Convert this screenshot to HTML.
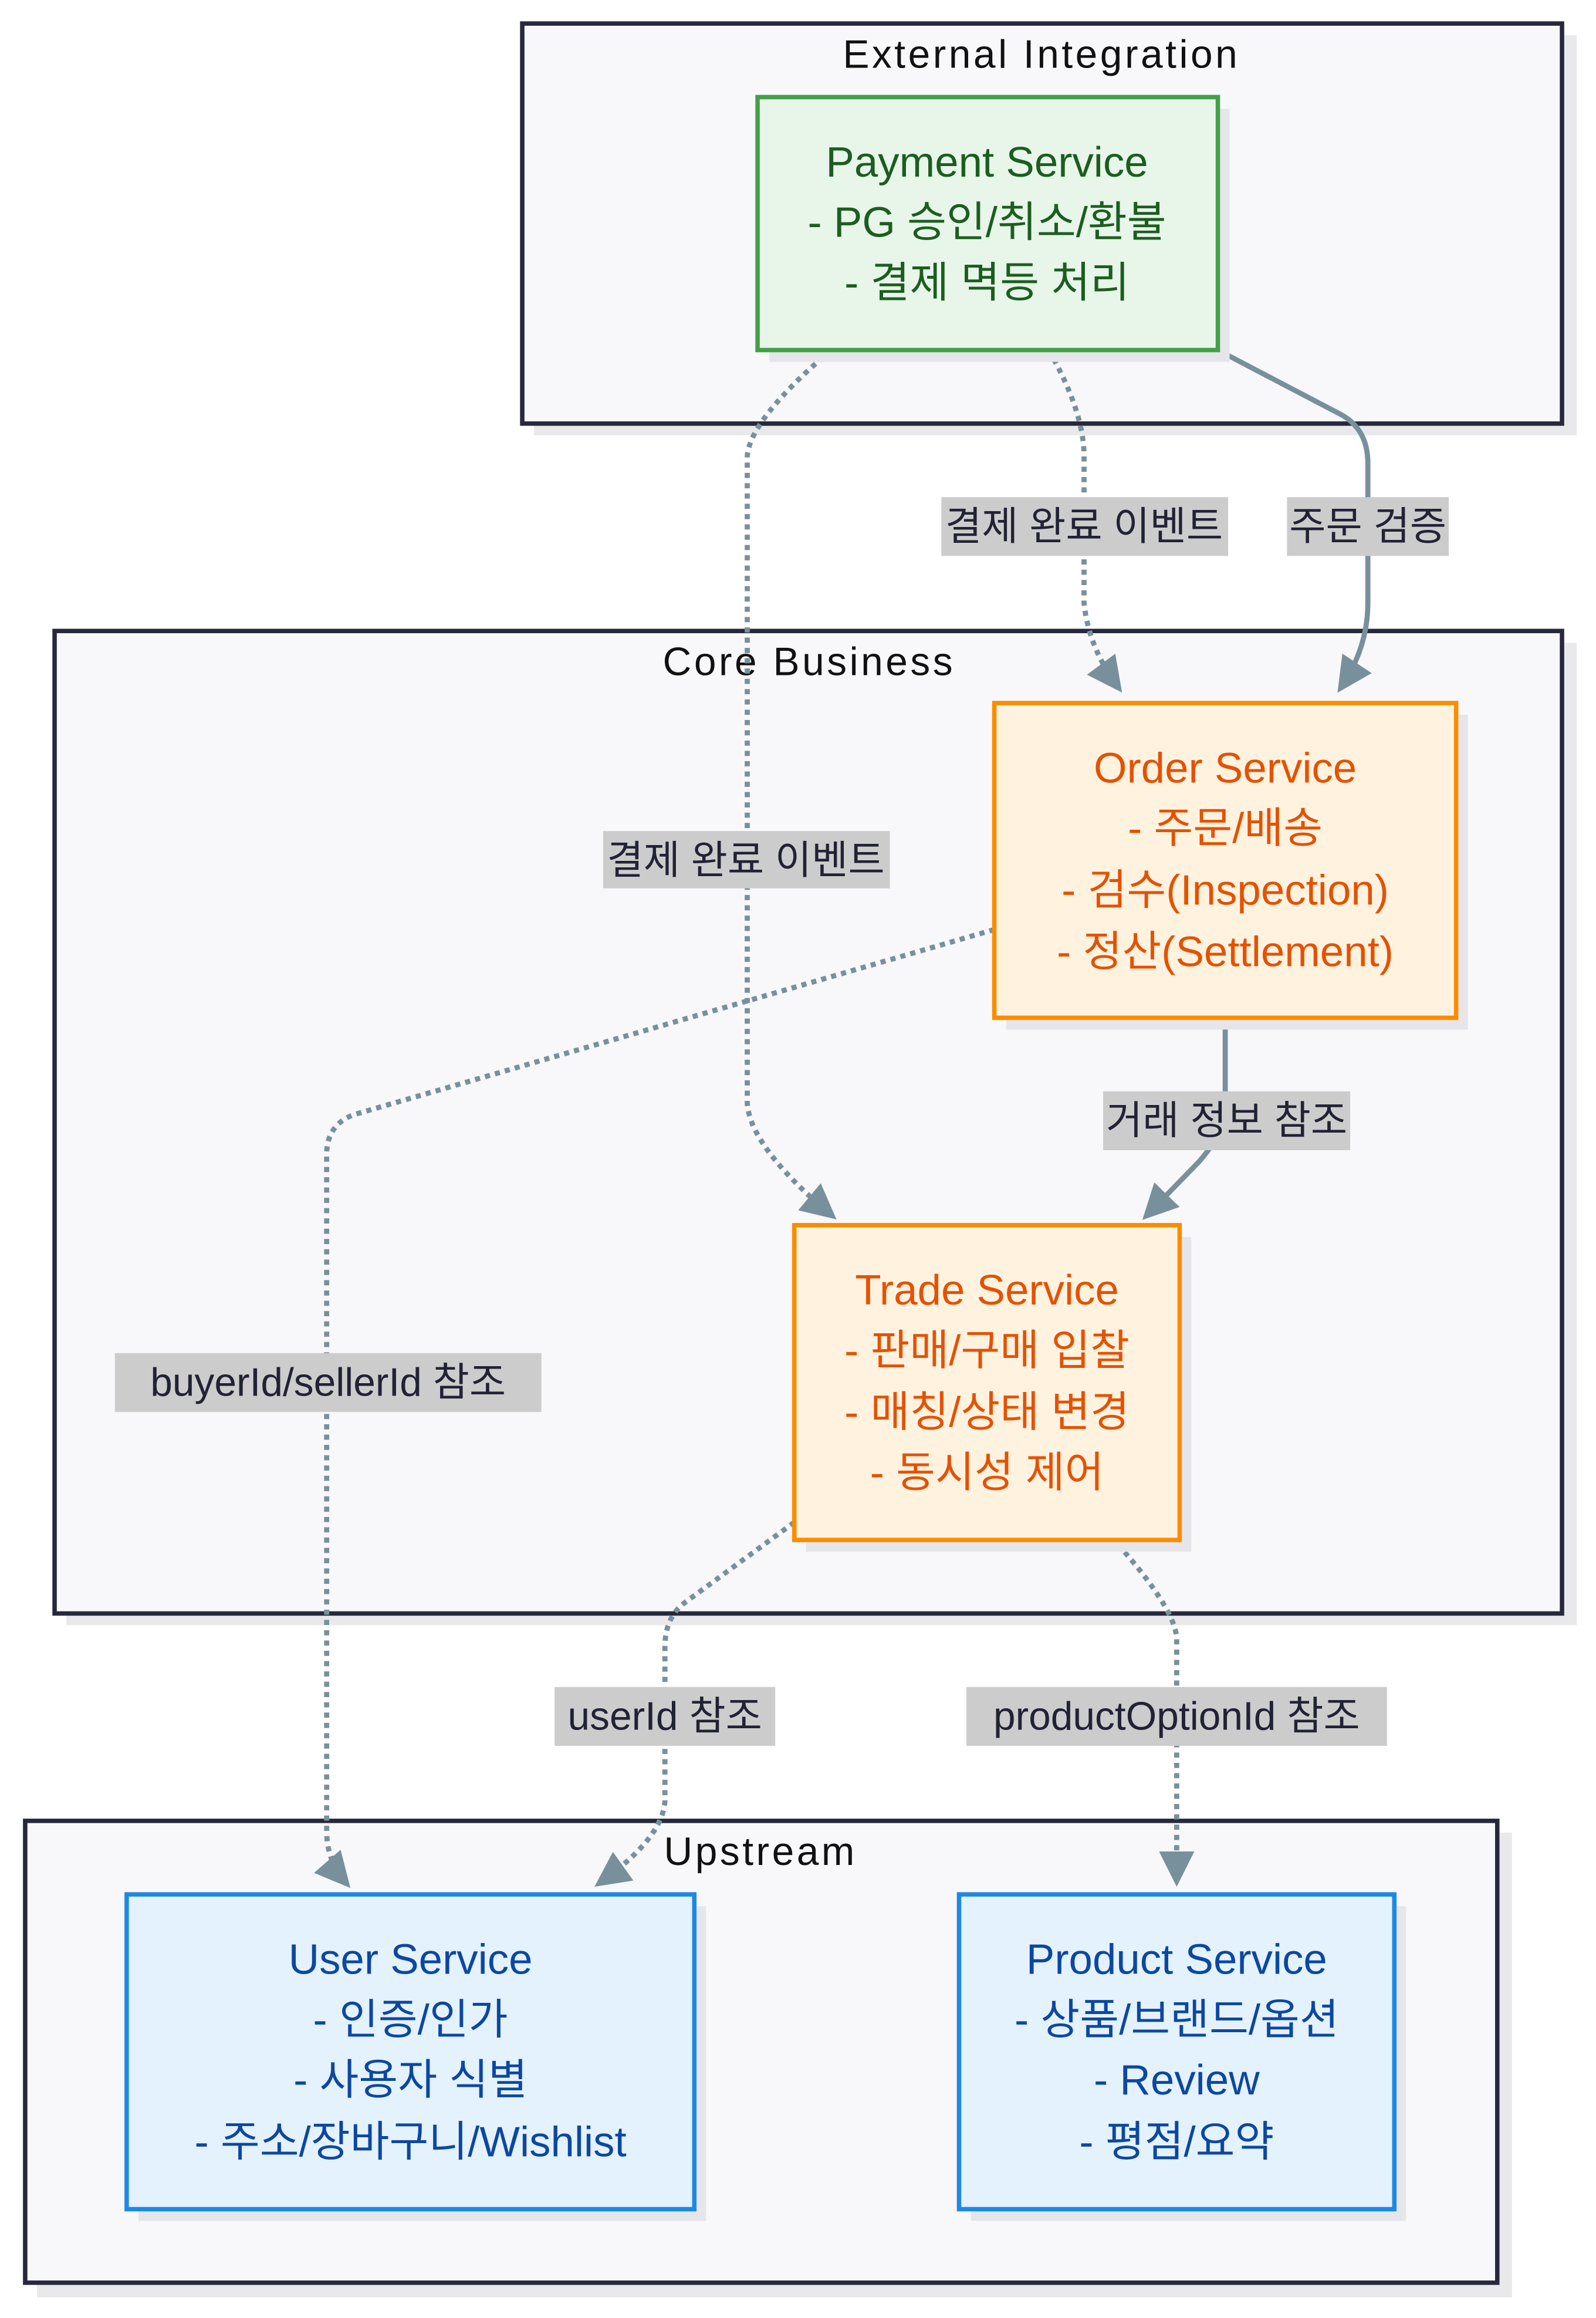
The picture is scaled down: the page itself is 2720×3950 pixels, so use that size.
<!DOCTYPE html>
<html><head><meta charset="utf-8"><style>
html,body{margin:0;padding:0;background:#fff;}
svg{display:block;}
text{font-family:"Liberation Sans","Noto Sans CJK KR",sans-serif;}
</style></head><body>
<svg width="2720" height="3950" viewBox="0 0 1085 1576" xmlns="http://www.w3.org/2000/svg">
<defs>
<marker id="a" viewBox="0 0 10 10" refX="8" refY="5" markerWidth="24" markerHeight="24" markerUnits="userSpaceOnUse" orient="auto"><path d="M0,0 L10,5 L0,10 z" fill="#78909c"/></marker>
</defs>
<rect width="1085" height="1576" fill="#ffffff"/>
<!-- clusters -->
<rect x="363" y="24" width="709" height="272" fill="#e9e9ec"/>
<rect x="355" y="16" width="707" height="272" fill="#f8f8fa" stroke="#27273d" stroke-width="3"/>
<text x="708" y="46" font-size="27" letter-spacing="1.8" text-anchor="middle" fill="#111">External Integration</text>
<rect x="45" y="437" width="1027" height="668" fill="#e9e9ec"/>
<rect x="37" y="429" width="1025" height="668" fill="#f8f8fa" stroke="#27273d" stroke-width="3"/>
<text x="550" y="459" font-size="27" letter-spacing="1.8" text-anchor="middle" fill="#111">Core Business</text>
<rect x="25" y="1246" width="1003" height="316" fill="#e9e9ec"/>
<rect x="17" y="1238" width="1001" height="314" fill="#f8f8fa" stroke="#27273d" stroke-width="3"/>
<text x="517" y="1268" font-size="27" letter-spacing="1.8" text-anchor="middle" fill="#111">Upstream</text>
<!-- edges -->
<g fill="none" stroke="#78909c" stroke-width="3.5">
<path d="M565,238 Q510,285 508,310 L508,750 Q510,780 565,826" stroke-dasharray="3.5,3.5" marker-end="url(#a)"/>
<path d="M713,238 Q737,280 737,310 L737,410 Q740,440 760,467" stroke-dasharray="3.5,3.5" marker-end="url(#a)"/>
<path d="M828,238 L912,282 Q930,292 930,315 L930,410 Q930,440 912,467" marker-end="url(#a)"/>
<path d="M676,632 L240,758 Q222,765 222,785 L222,1245 Q222,1265 235,1280" stroke-dasharray="3.5,3.5" marker-end="url(#a)"/>
<path d="M833,692 L833,750 Q833,770 815,790 L780,826" marker-end="url(#a)"/>
<path d="M540,1035 L465,1090 Q452,1100 452,1120 L452,1225 Q450,1250 408,1280" stroke-dasharray="3.5,3.5" marker-end="url(#a)"/>
<path d="M760,1050 Q800,1095 800,1115 L800,1278" stroke-dasharray="3.5,3.5" marker-end="url(#a)"/>
</g>
<!-- edge labels -->
<g font-size="27" fill="#222235" text-anchor="middle">
<rect x="410" y="565" width="195" height="39" fill="#cccccc"/><text x="507" y="594">결제 완료 이벤트</text>
<rect x="640" y="338" width="195" height="40" fill="#cccccc"/><text x="737" y="367">결제 완료 이벤트</text>
<rect x="875" y="338" width="110" height="40" fill="#cccccc"/><text x="930" y="367">주문 검증</text>
<rect x="78" y="920" width="290" height="40" fill="#cccccc"/><text x="223" y="949">buyerId/sellerId 참조</text>
<rect x="750" y="742" width="168" height="40" fill="#cccccc"/><text x="834" y="771">거래 정보 참조</text>
<rect x="377" y="1147" width="150" height="40" fill="#cccccc"/><text x="452" y="1176">userId 참조</text>
<rect x="657" y="1147" width="286" height="40" fill="#cccccc"/><text x="800" y="1176">productOptionId 참조</text>
</g>
<!-- nodes -->
<rect x="523" y="74" width="313" height="172" fill="#e6e6ea"/>
<rect x="515" y="66" width="313" height="172" fill="#e8f5e9" stroke="#43a047" stroke-width="3"/>
<g font-size="29" fill="#1b5e20" text-anchor="middle"><text x="671" y="120">Payment Service</text><text x="671" y="161">- PG 승인/취소/환불</text><text x="671" y="202">- 결제 멱등 처리</text></g>
<rect x="684" y="486" width="314" height="214" fill="#e6e6ea"/>
<rect x="676" y="478" width="314" height="214" fill="#fff3e0" stroke="#fb8c00" stroke-width="3"/>
<g font-size="29" fill="#e65100" text-anchor="middle"><text x="833" y="532">Order Service</text><text x="833" y="573">- 주문/배송</text><text x="833" y="615">- 검수(Inspection)</text><text x="833" y="657">- 정산(Settlement)</text></g>
<rect x="548" y="841" width="262" height="214" fill="#e6e6ea"/>
<rect x="540" y="833" width="262" height="214" fill="#fff3e0" stroke="#fb8c00" stroke-width="3"/>
<g font-size="29" fill="#e65100" text-anchor="middle"><text x="671" y="887">Trade Service</text><text x="671" y="928">- 판매/구매 입찰</text><text x="671" y="970">- 매칭/상태 변경</text><text x="671" y="1011">- 동시성 제어</text></g>
<rect x="94" y="1296" width="386" height="214" fill="#e6e6ea"/>
<rect x="86" y="1288" width="386" height="214" fill="#e3f2fd" stroke="#1e88e5" stroke-width="3"/>
<g font-size="29" fill="#0d47a1" text-anchor="middle"><text x="279" y="1342">User Service</text><text x="279" y="1383">- 인증/인가</text><text x="279" y="1424">- 사용자 식별</text><text x="279" y="1466">- 주소/장바구니/Wishlist</text></g>
<rect x="660" y="1296" width="296" height="214" fill="#e6e6ea"/>
<rect x="652" y="1288" width="296" height="214" fill="#e3f2fd" stroke="#1e88e5" stroke-width="3"/>
<g font-size="29" fill="#0d47a1" text-anchor="middle"><text x="800" y="1342">Product Service</text><text x="800" y="1383">- 상품/브랜드/옵션</text><text x="800" y="1424">- Review</text><text x="800" y="1466">- 평점/요약</text></g>
</svg>
</body></html>
